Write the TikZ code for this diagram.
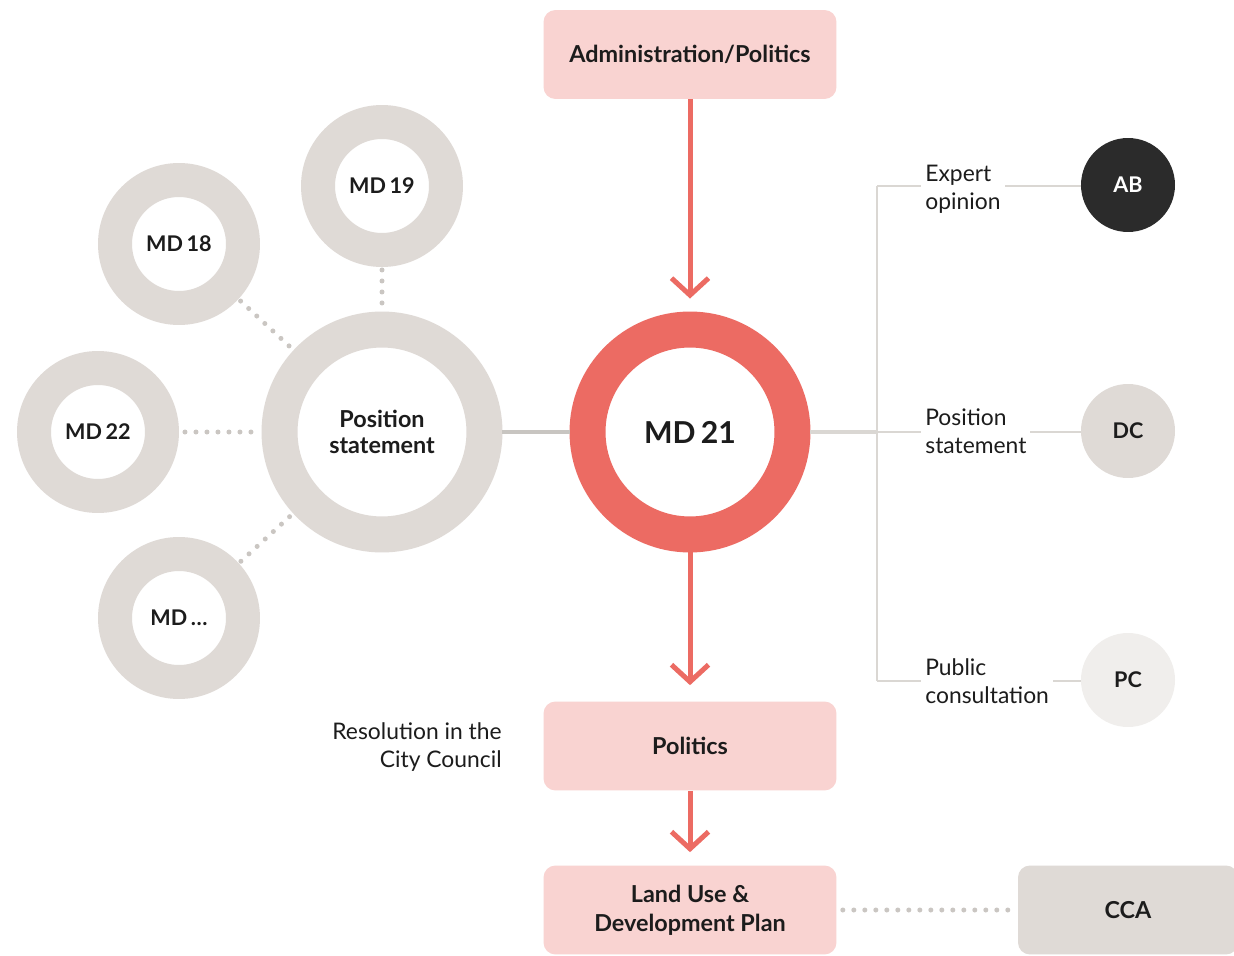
\documentclass[tikz,border=0pt]{standalone}
\usepackage{fontspec}
\setmainfont{Lato}
\usetikzlibrary{arrows.meta}

\definecolor{accent}{HTML}{EC6B63}
\definecolor{blush}{HTML}{F9D3D1}
\definecolor{stone}{HTML}{DFDAD6}
\definecolor{dotgray}{HTML}{CAC6C2}
\definecolor{linegray}{HTML}{C8C5C1}
\definecolor{palegray}{HTML}{DAD7D3}
\definecolor{ink}{HTML}{1C1C1C}
\definecolor{charcoal}{HTML}{2B2B2B}
\definecolor{mist}{HTML}{F0EEEC}

\tikzset{
  boxtext/.style={font=\fontsize{13.3}{16.4}\selectfont\bfseries, text=ink, align=center},
  ringtext/.style={font=\fontsize{12.3}{14.7}\selectfont\bfseries, text=ink, align=center},
  pinkbox/.style={boxtext, fill=blush, rounded corners=0.24cm,
    minimum width=5.86cm, minimum height=1.78cm, inner sep=0pt},
  graybox/.style={pinkbox, fill=stone, minimum width=4.4cm},
  ring/.style={circle, draw=#1, inner sep=0pt, ringtext},
  bigring/.style={ring=#1, line width=0.72cm, minimum size=4.1cm},
  smallring/.style={ring=#1, line width=0.68cm, minimum size=2.56cm},
  badge/.style={circle, fill=#1, minimum size=1.88cm, inner sep=0pt, ringtext},
  flow/.style={draw=accent, line width=0.1cm, -{Straight Barb[length=0.34cm, width=0.74cm]}},
  dots/.style={draw=dotgray, line width=0.1cm, line cap=round, dash pattern=on 0pt off 0.22cm},
  thinline/.style={draw=palegray, line width=0.03cm},
  label/.style={font=\fontsize{13}{15.8}\selectfont, text=ink, fill=white, inner xsep=0.08cm, inner ysep=0pt},
}

\begin{document}
\begin{tikzpicture}[x=0.02cm, y=-0.02cm]
  \clip (0,0) rectangle (1234,956);
  \fill[white] (0,0) rectangle (1234,956);

  % central column
  \node[pinkbox] (admin) at (690,54.5) {Administration/Politics};
  \node[bigring=accent, font=\fontsize{17.2}{20}\selectfont\bfseries] (md21) at (690,432) {MD\,21};
  \node[pinkbox] (politics) at (690,746) {Politics};
  \node[pinkbox] (plan) at (690,910) {Land Use \&\\Development Plan};
  \node[graybox] (cca) at (1128,910) {CCA};

  \draw[flow, shorten >=0.26cm] (admin) -- (md21);
  \draw[flow, shorten >=0.32cm] (md21) -- (politics);
  \draw[flow, shorten >=0.26cm] (politics) -- (plan);
  \draw[dots, shorten <=0.12cm, shorten >=0.08cm] (plan) -- (cca);

  \node[label, anchor=east, align=right, inner sep=0pt] (council) at (502,747)
    {Resolution in the\\City Council};

  % position statement cluster
  \node[bigring=stone, boxtext, font=\fontsize{13.3}{14.7}\selectfont\bfseries] (ps) at (382,432) {Position\\statement};
  \node[smallring=stone] (md19) at (382,186) {MD\,19};
  \node[smallring=stone] (md18) at (179,244) {MD\,18};
  \node[smallring=stone] (md22) at (98,432) {MD\,22};
  \node[smallring=stone] (mdx) at (179,618) {MD\,\dots};

  \draw[dots, shorten <=0.06cm, shorten >=0.06cm] (md19) -- (ps);
  \draw[dots, shorten <=0.06cm, shorten >=0.06cm] (md18) -- (ps);
  \draw[dots, shorten <=0.12cm, shorten >=0.04cm] (md22) -- (ps);
  \draw[dots, shorten <=0.06cm, shorten >=0.06cm] (mdx) -- (ps);

  \draw[draw=linegray, line width=0.08cm] (ps) -- (md21);

  % consultation branches
  \coordinate (hub) at (877,432);
  \coordinate (hubtop) at (877,186);
  \coordinate (hubbot) at (877,681);
  \node[badge=charcoal, text=white] (ab) at (1128,185) {AB};
  \node[badge=stone] (dc) at (1128,431) {DC};
  \node[badge=mist] (pc) at (1128,680) {PC};

  \draw[draw=palegray, line width=0.08cm] (md21) -- (hub);
  \draw[thinline] (hubtop) -- (hubbot);
  \draw[thinline] (hubtop) -- (hubtop -| ab.west);
  \draw[thinline] (hub) -- (hub -| dc.west);
  \draw[thinline] (hubbot) -- (hubbot -| pc.west);

  \node[label, anchor=west, align=left] (expert) at (921,189) {Expert\\opinion};
  \node[label, anchor=west, align=left] (statement) at (921,431) {Position\\statement};
  \node[label, anchor=west, align=left] (public) at (921,681) {Public\\consultation};
\end{tikzpicture}
\end{document}
